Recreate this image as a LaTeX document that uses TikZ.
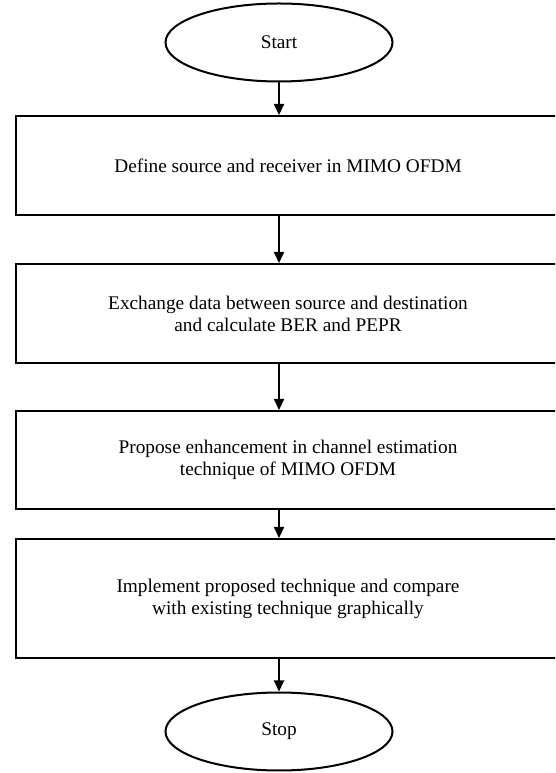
\documentclass[tikz,border=0pt]{standalone}
\usepackage{fontspec}
\setmainfont{Liberation Serif}
\usetikzlibrary{shapes.geometric,arrows.meta,positioning}

\begin{document}
\begin{tikzpicture}[x=1pt,y=1pt]
\tikzstyle{every node}=[font=\fontsize{19.3}{22}\selectfont]
\tikzstyle{terminal}=[draw,ellipse,line width=2pt,minimum width=227pt,minimum height=78pt,inner sep=0pt]
\tikzstyle{process}=[draw,rectangle,line width=2pt,minimum width=544pt,align=center,inner sep=0pt]
\tikzstyle{flow}=[-{Triangle[width=10pt,length=11pt]},line width=2pt]

% Fix the page to the size of the figure (the boxes run off the right side)
\clip (0,0) rectangle (555,773);

%
% Draw the start and stop ellipses
%
\node[terminal] (start) at (279,730.5) {Start};
\node[terminal] (stop) at (279,41.5) {Stop};

%
% Draw the four steps
%
\node[process,minimum height=99pt] (define) at (288,607.5)
  {Define source and receiver in MIMO OFDM};
\node[process,minimum height=99pt] (exchange) at (288,459.5)
  {Exchange data between source and destination\\and calculate BER and PEPR};
\node[process,minimum height=98pt] (propose) at (288,313)
  {Propose enhancement in channel estimation\\technique of MIMO OFDM};
\node[process,minimum height=119pt] (implement) at (288,174.5)
  {Implement proposed technique and compare\\with existing technique graphically};

%
% Draw the arrows down the chart
%
\draw[flow] (start) -- (start |- define.north);
\draw[flow] (define.south -| start) -- (exchange.north -| start);
\draw[flow] (exchange.south -| start) -- (propose.north -| start);
\draw[flow] (propose.south -| start) -- (implement.north -| start);
\draw[flow] (implement.south -| start) -- (stop);

\end{tikzpicture}
\end{document}
